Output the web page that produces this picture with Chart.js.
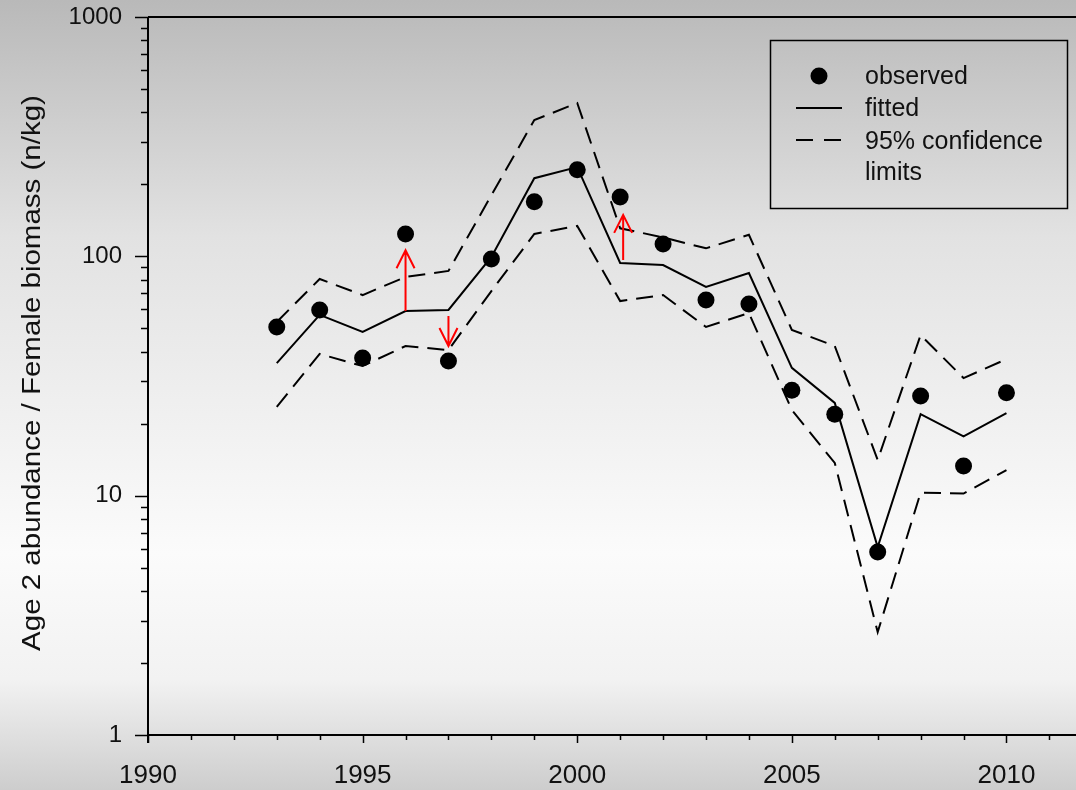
<!DOCTYPE html>
<html>
<head>
<meta charset="utf-8">
<script src="https://cdn.jsdelivr.net/npm/chart.js@4"></script>
<style>
  html, body { margin:0; padding:0; }
  #wrap { width:1076px; height:790px; position:relative;
    background: linear-gradient(to bottom, #b9b9b9 0%, #e2e2e2 30%, #fbfbfb 70%, #f2f2f2 86%, #cdcdcd 100%); }
</style>
</head>
<body>
<div id="wrap"><canvas id="c" width="1076" height="790"></canvas></div>
<script>
const years    = [1993,1994,1995,1996,1997,1998,1999,2000,2001,2002,2003,2004,2005,2006,2007,2008,2009,2010];
const observed = [50.7,59.7,37.6,124,36.5,97.5,169,230,177,112.6,65.7,63.2,27.6,21.9,5.82,26.1,13.3,26.9];
const fitted   = [35.8,56.9,48.3,59.1,59.7,99.4,212,236,93.8,92,74.5,85.2,34.2,24.4,6.1,21.9,17.7,22.1];
const upperCL  = [53.2,80.4,68.9,82,86.9,180,371,437,131,120,108,123,49.3,42.2,14.1,46.9,31,37.2];
const lowerCL  = [23.5,39.1,34.8,42.2,40.6,71.6,124,134,65,68.9,50.7,58,22.8,13.7,2.69,10.3,10.2,12.8];

// red arrows: from fitted value towards observed
const arrowYears = [1996,1997,2001];
const arrowFrom  = [59.1,56.3,96.5];
const arrowTo    = [106,42.2,149];

const xTickYears = [1990,1995,2000,2005,2010];
const yTickVals  = [1,10,100,1000];
const yTitle = "Age 2 abundance / Female biomass (n/kg)";
const legendLabels = ["observed","fitted","95% confidence","limits"];

const FONT = "'Liberation Sans', Arial, sans-serif";
const pts = vals => years.map((y,i)=>({x:y, y:vals[i]}));

const axesPlugin = {
  id:"axesPlugin",
  afterDatasetsDraw(chart){
    const {ctx, chartArea:a, scales:{x, y}} = chart;
    ctx.save();
    ctx.strokeStyle = "#000"; ctx.lineWidth = 2;
    ctx.beginPath();
    ctx.moveTo(a.left, a.top); ctx.lineTo(a.left, a.bottom + 8);
    ctx.moveTo(a.left, a.bottom); ctx.lineTo(chart.width, a.bottom);
    ctx.moveTo(a.left, a.top); ctx.lineTo(chart.width, a.top);
    ctx.stroke();
    ctx.lineWidth = 1.5;
    ctx.beginPath();
    for(let d=1; d<=1000; d*=10){
      for(let m=1; m<10; m++){
        const v = d*m; if(v>1000) break;
        const py = Math.round(y.getPixelForValue(v)) + 0.5;
        ctx.moveTo(a.left, py); ctx.lineTo(a.left - (m===1 ? 13 : 7), py);
      }
    }
    for(let yr=1990; yr<=2011; yr++){
      const px = Math.round(x.getPixelForValue(yr)) + 0.5;
      ctx.moveTo(px, a.bottom); ctx.lineTo(px, a.bottom + (yr%5===0 ? 8 : 5));
    }
    ctx.stroke();

    // arrows
    ctx.strokeStyle = "#ff0000"; ctx.lineWidth = 2;
    arrowYears.forEach((yr,i)=>{
      const px = x.getPixelForValue(yr) + (yr===2001 ? 3 : 0);
      const p0 = y.getPixelForValue(arrowFrom[i]);
      const p1 = y.getPixelForValue(arrowTo[i]);
      const dir = p1 < p0 ? 1 : -1;
      ctx.beginPath();
      ctx.moveTo(px, p0); ctx.lineTo(px, p1);
      ctx.moveTo(px - 9, p1 + dir*18); ctx.lineTo(px, p1); ctx.lineTo(px + 9, p1 + dir*18);
      ctx.stroke();
    });

    // y title (slightly stretched like the original export)
    ctx.fillStyle = "#111";
    ctx.save();
    ctx.translate(33, (a.top + a.bottom)/2 - 3);
    ctx.rotate(-Math.PI/2);
    ctx.scale(1.18, 1);
    ctx.font = "25px " + FONT; ctx.textAlign = "center"; ctx.textBaseline = "middle";
    ctx.fillText(yTitle, 0, 0);
    ctx.restore();

    // legend
    ctx.strokeStyle = "#000"; ctx.lineWidth = 1.5;
    ctx.strokeRect(770.5, 40.5, 297, 168);
    ctx.fillStyle = "#000";
    ctx.beginPath(); ctx.arc(819, 76, 8.5, 0, Math.PI*2); ctx.fill();
    ctx.lineWidth = 2;
    ctx.beginPath(); ctx.moveTo(796, 108); ctx.lineTo(842, 108); ctx.stroke();
    ctx.beginPath(); ctx.moveTo(796, 140); ctx.lineTo(813, 140); ctx.moveTo(824, 140); ctx.lineTo(841, 140); ctx.stroke();
    ctx.font = "25px " + FONT; ctx.textBaseline = "middle"; ctx.textAlign = "left";
    ctx.fillStyle = "#111";
    [77,109,142,173].forEach((ty,i)=> ctx.fillText(legendLabels[i], 865, ty));
    ctx.restore();
  }
};

new Chart(document.getElementById("c"), {
  type:"line",
  data:{ datasets:[
    { label:"observed", data:pts(observed), showLine:false, pointRadius:8.5, pointBackgroundColor:"#000", pointBorderWidth:0, order:0 },
    { label:"fitted", data:pts(fitted), borderColor:"#000", borderWidth:2, pointRadius:0, tension:0, order:1 },
    { label:"upper", data:pts(upperCL), borderColor:"#000", borderWidth:2, borderDash:[17,9], pointRadius:0, tension:0, order:2 },
    { label:"lower", data:pts(lowerCL), borderColor:"#000", borderWidth:2, borderDash:[17,9], pointRadius:0, tension:0, order:2 }
  ]},
  options:{
    responsive:false, animation:false, devicePixelRatio:1,
    layout:{ autoPadding:false, padding:{ top:17, right:0, left:0, bottom:0 } },
    plugins:{ legend:{ display:false }, tooltip:{ enabled:false } },
    scales:{
      x:{ type:"linear", min:1990, max:2011.62,
        grid:{ display:false, drawTicks:false }, border:{ display:false },
        ticks:{ font:{ family:FONT, size:26 }, color:"#111", padding:25, maxRotation:0, callback: v => String(v) },
        afterBuildTicks: s => { s.ticks = xTickYears.map(v=>({value:v})); },
        afterFit: s => { s.height = 55; s.paddingLeft = 0; s.paddingRight = 0; }
      },
      y:{ type:"logarithmic", min:1, max:1000,
        grid:{ display:false, drawTicks:false }, border:{ display:false },
        ticks:{ font:{ family:FONT, size:24 }, color:"#111", padding:26, callback: v => String(v) },
        afterBuildTicks: s => { s.ticks = yTickVals.map(v=>({value:v})); },
        afterFit: s => { s.width = 148; s.paddingTop = 0; s.paddingBottom = 0; }
      }
    }
  },
  plugins:[axesPlugin]
});
</script>
</body>
</html>
